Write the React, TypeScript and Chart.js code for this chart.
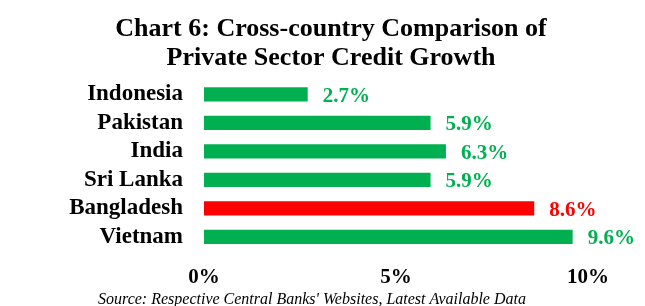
import React, { useEffect, useRef } from "react";
import { Chart, registerables } from "chart.js";

Chart.register(...registerables);

const countries = ["Indonesia", "Pakistan", "India", "Sri Lanka", "Bangladesh", "Vietnam"];
const growth = [2.7, 5.9, 6.3, 5.9, 8.6, 9.6];
const barColors = ["#00B050", "#00B050", "#00B050", "#00B050", "#FF0000", "#00B050"];
const titleLines = ["Chart 6: Cross-country Comparison of", "Private Sector Credit Growth"];
const sourceText = "Source: Respective Central Banks' Websites, Latest Available Data";

const FONT = "'Liberation Serif', 'DejaVu Serif', serif";

const valueLabels = {
  id: "valueLabels",
  afterDatasetsDraw(chart: any) {
    const ctx = chart.ctx;
    const meta = chart.getDatasetMeta(0);
    ctx.save();
    ctx.font = `bold 21px ${FONT}`;
    ctx.textBaseline = "middle";
    ctx.textAlign = "left";
    meta.data.forEach((bar: any, i: number) => {
      ctx.fillStyle = barColors[i];
      ctx.fillText(growth[i].toFixed(1) + "%", bar.x + 15, bar.y + 2);
    });
    ctx.restore();
  },
};

const textPlugin = {
  id: "textPlugin",
  afterDraw(chart: any) {
    const ctx = chart.ctx;
    ctx.save();
    ctx.fillStyle = "#000";
    ctx.textAlign = "center";
    ctx.textBaseline = "middle";
    ctx.font = `bold 26px ${FONT}`;
    titleLines.forEach((line, i) => {
      ctx.fillText(line, 331, 29 + i * 29);
    });
    ctx.font = `italic 16px ${FONT}`;
    ctx.textBaseline = "alphabetic";
    ctx.fillText(sourceText, 312, 304);
    ctx.restore();
  },
};

export default function App() {
  const ref = useRef<HTMLCanvasElement>(null);
  useEffect(() => {
    if (!ref.current) return;
    const chart = new Chart(ref.current, {
      type: "bar",
      data: {
        labels: countries,
        datasets: [
          {
            data: growth,
            backgroundColor: barColors,
            borderWidth: 0,
            categoryPercentage: 1,
            barPercentage: 0.5,
          },
        ],
      },
      options: {
        indexAxis: "y",
        animation: false,
        responsive: false,
        layout: { padding: { left: 0, right: 57, top: 80, bottom: 0 } },
        plugins: {
          legend: { display: false },
          tooltip: { enabled: false },
          title: { display: false },
        },
        scales: {
          x: {
            min: 0,
            max: 10,
            grid: { display: false },
            border: { display: false },
            afterFit: (scale: any) => {
              scale.height = 55;
            },
            ticks: {
              stepSize: 5,
              color: "#000",
              font: { family: FONT, size: 21, weight: "bold" },
              padding: 6,
              maxRotation: 0,
              callback: (v: any) => v + "%",
            },
          },
          y: {
            grid: { display: false },
            border: { display: false },
            afterFit: (scale: any) => {
              scale.width = 204;
            },
            ticks: {
              autoSkip: false,
              color: "#000",
              font: { family: FONT, size: 23, weight: "bold" },
              padding: 13,
            },
          },
        },
      },
      plugins: [valueLabels, textPlugin],
    });
    return () => chart.destroy();
  }, []);
  return (
    <div style={{ position: "fixed", left: 0, top: 0, width: 645, height: 306, background: "#fff" }}>
      <canvas ref={ref} width={645} height={306} style={{ width: 645, height: 306 }} />
    </div>
  );
}
